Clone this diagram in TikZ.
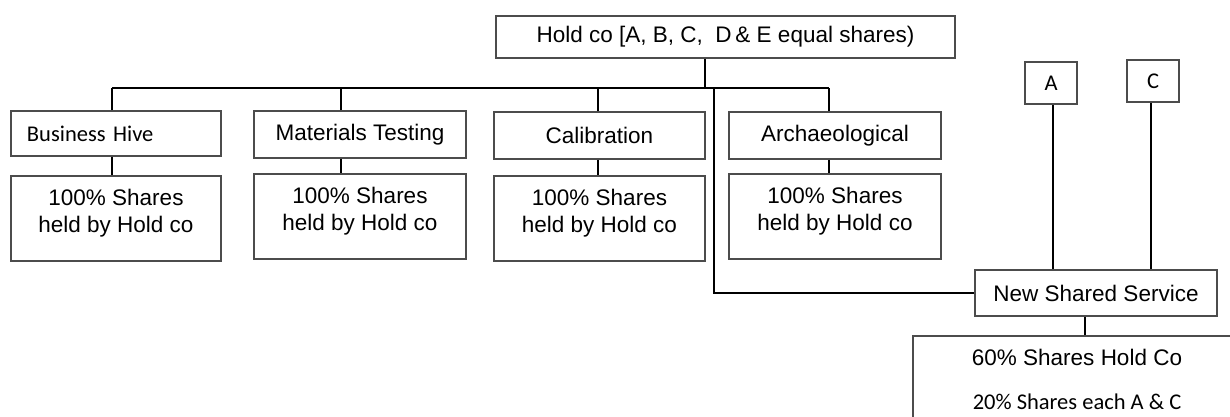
\documentclass[tikz,border=0pt]{standalone}
\usepackage{fontspec}
\setmainfont{Liberation Sans}
\newfontfamily\calfont{Carlito}
\usepackage{tikz}
\usetikzlibrary{calc}
\tikzset{box/.style = {draw=black!70, line width=1.7pt, rectangle, inner sep=0pt, align=center, font=\fontsize{22.5}{27.5}\selectfont}}
\tikzset{txt/.style = {inner sep=0pt, align=center, font=\fontsize{22.5}{27.5}\selectfont}}
\tikzset{link/.style = {black, line width=2.9pt}}

\begin{document}
\begin{tikzpicture}[x=1pt, y=-1pt]
                    \useasboundingbox (0,0) rectangle (1230,417);
                    \clip (0,0) rectangle (1230,417);

                    % Hold co on top
                    \node[box, minimum width=459pt, minimum height=42pt] (hold) at (725.5,37) {Hold co [A, B, C,~~D\,\&~E equal shares)};

                    % Companies and their share boxes
                    \node[box, minimum width=210pt, minimum height=45pt, text width=178pt, align=left, font=\calfont\fontsize{22.5}{27.5}\selectfont] (bh) at (116,133.5) {Business Hive};
                    \node[box, minimum width=210pt, minimum height=85pt] (bh-sh) at (116,218.5) {};
                    \node[box, minimum width=212pt, minimum height=47pt] (mt) at (360,134.5) {Materials Testing};
                    \node[box, minimum width=212pt, minimum height=85pt] (mt-sh) at (360,216.5) {};
                    \node[box, minimum width=211pt, minimum height=47pt] (cal) at (599.5,135.5) {Calibration};
                    \node[box, minimum width=211pt, minimum height=85pt] (cal-sh) at (599.5,218.5) {};
                    \node[box, minimum width=212pt, minimum height=47pt] (arc) at (835,135.5) {Archaeological};
                    \node[box, minimum width=212pt, minimum height=85pt] (arc-sh) at (835,216.5) {};
                    \foreach \n in {bh, mt, cal, arc}
                        \node[txt] (\n-txt) at ([yshift=-38pt]\n-sh.north) {100\% Shares\\held by Hold co};

                    % A and C
                    \node[box, minimum width=52pt, minimum height=42pt, font=\calfont\fontsize{22.5}{27.5}\selectfont] (a) at (1051,83) {A};
                    \node[box, minimum width=52pt, minimum height=42pt, font=\calfont\fontsize{22.5}{27.5}\selectfont] (c) at (1153,81) {C};

                    % New shared service
                    \node[box, minimum width=242pt, minimum height=46pt] (nss) at (1096,293) {New Shared Service};
                    \node[box, minimum width=328pt, minimum height=110pt] (nss-sh) at (1077,391) {};
                    \node[txt] (nss-t1) at (1077,357) {60\% Shares Hold Co};
                    \node[txt, font=\calfont\fontsize{22.5}{27.5}\selectfont] (nss-t2) at (1077,402) {20\% Shares each A \& C};

                    % Bus under Hold co
                    \coordinate (bus) at (705,88);
                    \coordinate (tap) at (714,88);
                    \draw[link] (hold.south -| bus) -- (bus);
                    \foreach \n/\dx in {bh/-4, mt/-19, cal/-1.5, arc/-6}{
                        \coordinate (\n-top) at ([xshift=\dx pt]\n.north);
                        \coordinate (\n-bot) at ([xshift=\dx pt]\n.south);
                        \draw[link] (\n-top) -- (\n-top |- bus);
                        \draw[link] (\n-bot) -- (\n-bot |- \n-sh.north);
                    }
                    \draw[link] (bh-top |- bus) -- (arc-top |- bus);

                    % Hold co down to New Shared Service
                    \draw[link] (tap) |- (nss.west);

                    % A and C down to New Shared Service
                    \coordinate (a-bot) at ([xshift=2pt]a.south);
                    \coordinate (c-bot) at ([xshift=-2pt]c.south);
                    \draw[link] (a-bot) -- (a-bot |- nss.north);
                    \draw[link] (c-bot) -- (c-bot |- nss.north);

                    % New Shared Service down to its shares
                    \coordinate (nss-bot) at ([xshift=-11pt]nss.south);
                    \draw[link] (nss-bot) -- (nss-bot |- nss-sh.north);
                 \end{tikzpicture}
\end{document}
